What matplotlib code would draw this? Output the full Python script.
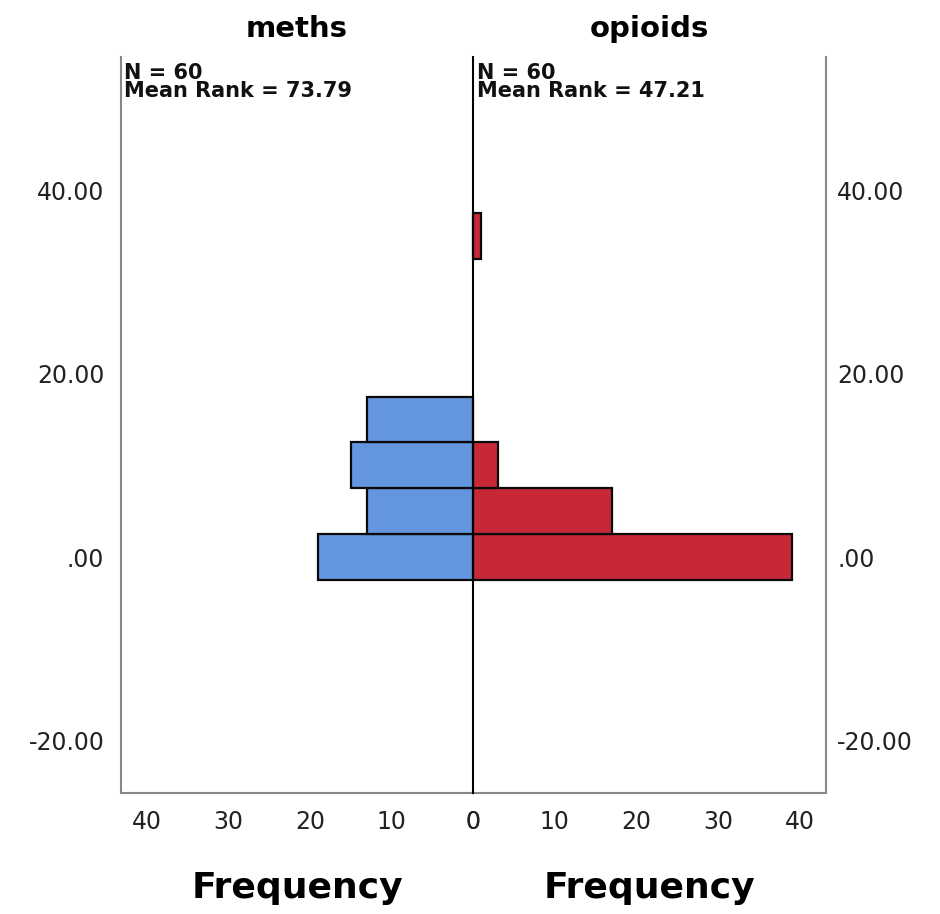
import matplotlib.pyplot as plt

# bin centres (value) and frequencies per group
bins = [0, 5, 10, 15, 35]
meths_counts = [19, 13, 15, 13, 0]
opioids_counts = [39, 17, 3, 0, 1]
groups = ['meths', 'opioids']
mean_ranks = [73.79, 47.21]
n_vals = [60, 60]
y_ticks = [-20, 0, 20, 40]
y_labels = ['-20.00', '.00', '20.00', '40.00']
x_ticks = [0, 10, 20, 30, 40]

blue = '#6495DF'
red = '#C62838'
bin_width = 5

fig = plt.figure(figsize=(9.4, 9.14), dpi=100)
ax1 = fig.add_axes([0.1287, 0.1324, 0.3745, 0.8053])
ax2 = fig.add_axes([0.5032, 0.1324, 0.3755, 0.8053])

ax1.barh(bins, meths_counts, height=bin_width, color=blue,
         edgecolor='#0a0a0a', linewidth=1.6)
ax2.barh(bins, opioids_counts, height=bin_width, color=red,
         edgecolor='#0a0a0a', linewidth=1.6)

for ax in (ax1, ax2):
    ax.set_ylim(-25.7, 54.5)
    ax.set_xlim(0, 43.2)
    ax.set_xticks(x_ticks)
    ax.set_xticklabels([str(t) for t in x_ticks], fontsize=17, color='#222222')
    ax.tick_params(axis='x', length=0, pad=12)
    ax.spines['top'].set_visible(False)
    ax.spines['bottom'].set_color('#888888')
    ax.spines['bottom'].set_linewidth(1.5)

ax1.invert_xaxis()
ax1.spines['right'].set_visible(False)
ax1.spines['left'].set_color('#888888')
ax1.spines['left'].set_linewidth(1.5)
ax2.spines['left'].set_color('black')
ax2.spines['left'].set_linewidth(1.5)
ax2.spines['left'].set_zorder(5)
ax2.spines['right'].set_color('#888888')
ax2.spines['right'].set_linewidth(1.5)

ax1.set_yticks(y_ticks)
ax1.set_yticklabels(y_labels, fontsize=17, color='#222222')
ax1.tick_params(axis='y', length=0, pad=12)
ax2.set_yticks(y_ticks)
ax2.yaxis.tick_right()
ax2.set_yticklabels(y_labels, fontsize=17, color='#222222')
ax2.tick_params(axis='y', length=0, pad=8)

for ax, name, n, mr in zip((ax1, ax2), groups, n_vals, mean_ranks):
    ax.set_title(name, fontsize=21, fontweight='bold', pad=14)
    ax.text(0.01, 0.992, f'N = {n}\nMean Rank = {mr:.2f}', transform=ax.transAxes,
            ha='left', va='top', fontsize=15, fontweight='bold',
            linespacing=0.9, color='#111111')
    ax.set_xlabel('Frequency', fontsize=26, fontweight='bold', labelpad=27)

fig.savefig('out.png', dpi=100)
